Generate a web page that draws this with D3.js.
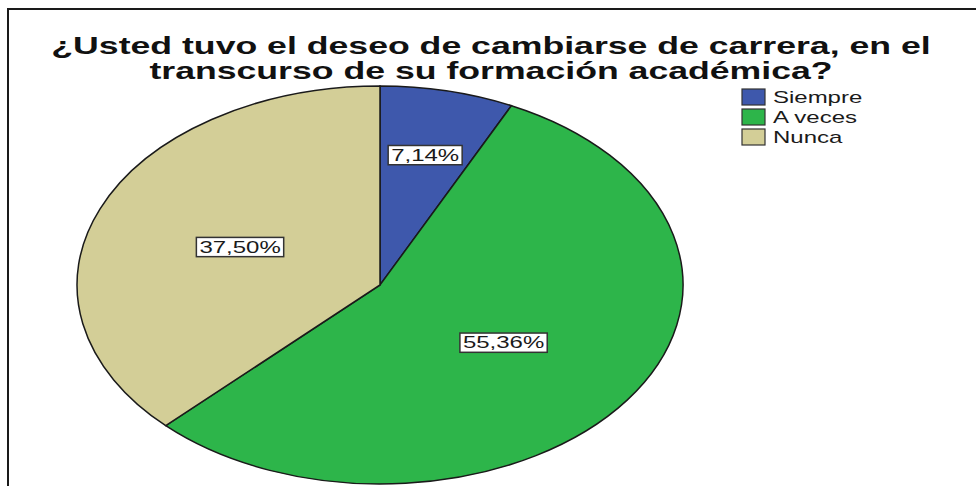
<!DOCTYPE html>
<html>
<head>
<meta charset="utf-8">
<script src="https://cdn.jsdelivr.net/npm/d3@7"></script>
<style>
  body { margin: 0; background: #fff; }
  text { font-family: "Liberation Sans", Arial, sans-serif; }
</style>
</head>
<body>
<svg id="chart"></svg>
<script>
// data
var categories = ["Siempre", "A veces", "Nunca"];
var values = [7.14, 55.36, 37.50];
var valueLabels = ["7,14%", "55,36%", "37,50%"];
var colors = ["#3e58ac", "#2db54a", "#d3ce97"];
var titleLines = ["¿Usted tuvo el deseo de cambiarse de carrera, en el",
                  "transcurso de su formación académica?"];

var width = 976, height = 486;
var cx = 380, cy = 285, rx = 303, ry = 199;
// the original image is stretched horizontally, text included
var sx = 1.5;

var svg = d3.select("#chart")
    .attr("width", width)
    .attr("height", height);

svg.append("rect")
    .attr("width", width).attr("height", height)
    .attr("fill", "#fff");

// frame (runs off right and bottom edges)
svg.append("rect")
    .attr("x", 8).attr("y", 9)
    .attr("width", width + 20).attr("height", height + 20)
    .attr("fill", "none")
    .attr("stroke", "#1a1a1a")
    .attr("stroke-width", 2);

// title
svg.append("g")
    .attr("transform", "translate(491,0) scale(1.55,1)")
    .append("text")
    .attr("text-anchor", "middle")
    .attr("font-weight", "bold")
    .attr("font-size", "23px")
    .attr("fill", "#111")
    .selectAll("tspan")
    .data(titleLines)
    .enter()
    .append("tspan")
    .attr("x", 0)
    .attr("y", function(d, i) { return 54 + i * 25; })
    .text(function(d) { return d; });

var pie = d3.pie().sort(null).value(function(d) { return d; });
var arcs = pie(values);

var arc = d3.arc().innerRadius(0).outerRadius(rx);

var pieG = svg.append("g")
    .attr("transform", "translate(" + cx + "," + cy + ") scale(1," + (ry / rx) + ")");

pieG.selectAll("path")
    .data(arcs)
    .enter()
    .append("path")
    .attr("d", arc)
    .attr("fill", function(d, i) { return colors[i]; })
    .attr("stroke", "#1a1a1a")
    .attr("stroke-width", 1.5)
    .attr("vector-effect", "non-scaling-stroke");

// labels: narrow slices pushed further out
var labels = svg.append("g").selectAll("g")
    .data(arcs)
    .enter()
    .append("g")
    .attr("transform", function(d) {
        var f = (d.endAngle - d.startAngle) < 0.1 * 2 * Math.PI ? 0.67 : 0.5;
        var a = (d.startAngle + d.endAngle) / 2;
        var x = cx + rx * f * Math.sin(a);
        var y = cy - ry * f * Math.cos(a);
        return "translate(" + x + "," + y + ")";
    });

labels.append("text")
    .attr("text-anchor", "middle")
    .attr("dy", "0.35em")
    .attr("font-size", "16px")
    .attr("fill", "#1a1a1a")
    .attr("transform", "scale(" + sx + ",1)")
    .text(function(d, i) { return valueLabels[i]; });

labels.each(function() {
    var g = d3.select(this);
    var bb = g.select("text").node().getBBox();
    g.insert("rect", "text")
        .attr("x", bb.x * sx - 3)
        .attr("y", bb.y - 1)
        .attr("width", bb.width * sx + 6)
        .attr("height", bb.height + 2)
        .attr("fill", "#fff")
        .attr("stroke", "#333")
        .attr("stroke-width", 1.5);
});

// legend
var legend = svg.append("g")
    .attr("transform", "translate(742,89)")
    .selectAll("g")
    .data(categories)
    .enter()
    .append("g")
    .attr("transform", function(d, i) { return "translate(0," + i * 20 + ")"; });

legend.append("rect")
    .attr("width", 23).attr("height", 16)
    .attr("fill", function(d, i) { return colors[i]; })
    .attr("stroke", "#333")
    .attr("stroke-width", 1.2);

legend.append("text")
    .attr("transform", "translate(31,8) scale(" + sx + ",1)")
    .attr("dy", "0.35em")
    .attr("font-size", "16px")
    .attr("fill", "#1a1a1a")
    .text(function(d) { return d; });
</script>
</body>
</html>
